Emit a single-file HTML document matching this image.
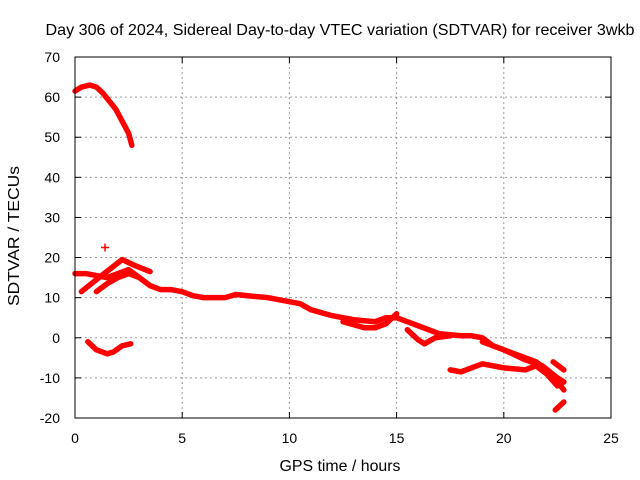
<!DOCTYPE html>
<html><head><meta charset="utf-8"><style>
body{margin:0;background:#fff}
svg{display:block;font-family:"Liberation Sans",sans-serif;font-size:14px}
</style></head><body>
<svg id="chart" width="640" height="480">
<text x="340" y="35" text-anchor="middle" font-size="16" textLength="589" lengthAdjust="spacingAndGlyphs">Day 306 of 2024, Sidereal Day-to-day VTEC variation (SDTVAR) for receiver 3wkb</text>
<g id="grid"></g>
<g id="series"></g>
<rect x="75" y="57" width="536" height="361" fill="none" stroke="#000" stroke-width="1"/>
<g id="ticks"></g>
<text x="340" y="471" text-anchor="middle" font-size="16" textLength="121" lengthAdjust="spacingAndGlyphs">GPS time / hours</text>
<text transform="translate(19,236) rotate(-90)" text-anchor="middle" font-size="16" textLength="140" lengthAdjust="spacingAndGlyphs">SDTVAR / TECUs</text>
</svg>
<script>
const xTicks=[0,5,10,15,20,25];
const yTicks=[-20,-10,0,10,20,30,40,50,60,70];
const segArc={t:[0,0.3,0.7,1.0,1.3,1.6,1.9,2.2,2.5,2.65],v:[61.5,62.5,63,62.5,61,59,57,54,51,48]};
const segMain={t:[0,0.5,1,1.5,2,2.5,3,3.5,4,4.5,5,5.5,6,7,7.5,8,9,10,10.5,11,12,13,14,14.5,15,15.5,16,17,18,18.5,19,19.5,20,21,21.5,22,22.5,22.8],
 v:[16,16,15.5,15,16,17,15,13,12,12,11.5,10.5,10,10,10.8,10.5,10,9,8.5,7,5.5,4.5,4,5,5,4,3,1,0.5,0.5,0,-2,-3,-5,-6,-8,-11,-13]};
const segRise1={t:[0.3,1,1.6,2.2,2.8,3.5],v:[11.5,14.5,17,19.5,18,16.5]};
const segRise2={t:[1,1.5,2,2.5,3],v:[11.5,13.5,15,16,15]};
const segLow13={t:[12.5,13.5,14,14.5,15],v:[4,2.5,2.5,3.5,6]};
const segDip={t:[15.5,16,16.3,16.8,17.5],v:[2,-0.5,-1.5,0,0.5]};
const segBranch={t:[19,20,21,21.8,22.5,22.8],v:[-1,-3,-5.5,-7,-10,-11]};
const segLowerCurve={t:[17.5,18,18.5,19,20,21,21.5,22,22.5,22.8],v:[-8,-8.5,-7.5,-6.5,-7.5,-8,-7,-9,-12,-11]};
const segShort={t:[22.3,22.8],v:[-6,-8]};
const segBottom={t:[22.4,22.8],v:[-18,-16]};
const segNeg={t:[0.6,1,1.5,1.8,2.2,2.6],v:[-1,-3,-4,-3.5,-2,-1.5]};
const lonePoint={t:[1.4],v:[22.5]};
const allSegs=[segArc,segMain,segRise1,segRise2,segLow13,segDip,segBranch,segLowerCurve,segShort,segBottom,segNeg];
const px=x=>75+x*536/25, py=v=>57+(70-v)*361/90;
const NS="http://www.w3.org/2000/svg";
const grid=document.getElementById('grid'),ticks=document.getElementById('ticks'),ser=document.getElementById('series');
function mk(tag,attrs,parent){const e=document.createElementNS(NS,tag);for(const k in attrs)e.setAttribute(k,attrs[k]);parent.appendChild(e);return e;}
xTicks.forEach(t=>{const x=px(t);
 if(t>0&&t<25){const g=mk('line',{x1:x,x2:x,y1:57,y2:418,stroke:'#999','stroke-dasharray':'2,3'},grid);
 
 }
 mk('line',{x1:x,x2:x,y1:418,y2:412,stroke:'#000'},ticks);mk('line',{x1:x,x2:x,y1:57,y2:63,stroke:'#000'},ticks);
 const l=mk('text',{x:x,y:443,'text-anchor':'middle'},ticks);l.textContent=t;
 
 });
yTicks.forEach(v=>{const y=py(v);
 if(v>-20&&v<70){const g=mk('line',{x1:75,x2:611,y1:y,y2:y,stroke:'#999','stroke-dasharray':'2,3'},grid);
 
 }
 mk('line',{x1:75,x2:81,y1:y,y2:y,stroke:'#000'},ticks);mk('line',{x1:605,x2:611,y1:y,y2:y,stroke:'#000'},ticks);
 const l=mk('text',{x:60,y:y+5,'text-anchor':'end'},ticks);l.textContent=v;
 
 });
allSegs.forEach(s=>{const pts=s.t.map((t,i)=>px(t)+','+py(s.v[i])).join(' ');
 const p=mk('polyline',{points:pts,fill:'none',stroke:'#f00','stroke-width':5.5,'stroke-linejoin':'round','stroke-linecap':'round'},ser);
 
 });
lonePoint.t.forEach((t,i)=>{const x=px(t),y=py(lonePoint.v[i]);
 const p=mk('path',{d:`M${x-4},${y}H${x+4}M${x},${y-4}V${y+4}`,stroke:'#f00','stroke-width':1.5},ser);
 
 });
</script>
</body></html>
